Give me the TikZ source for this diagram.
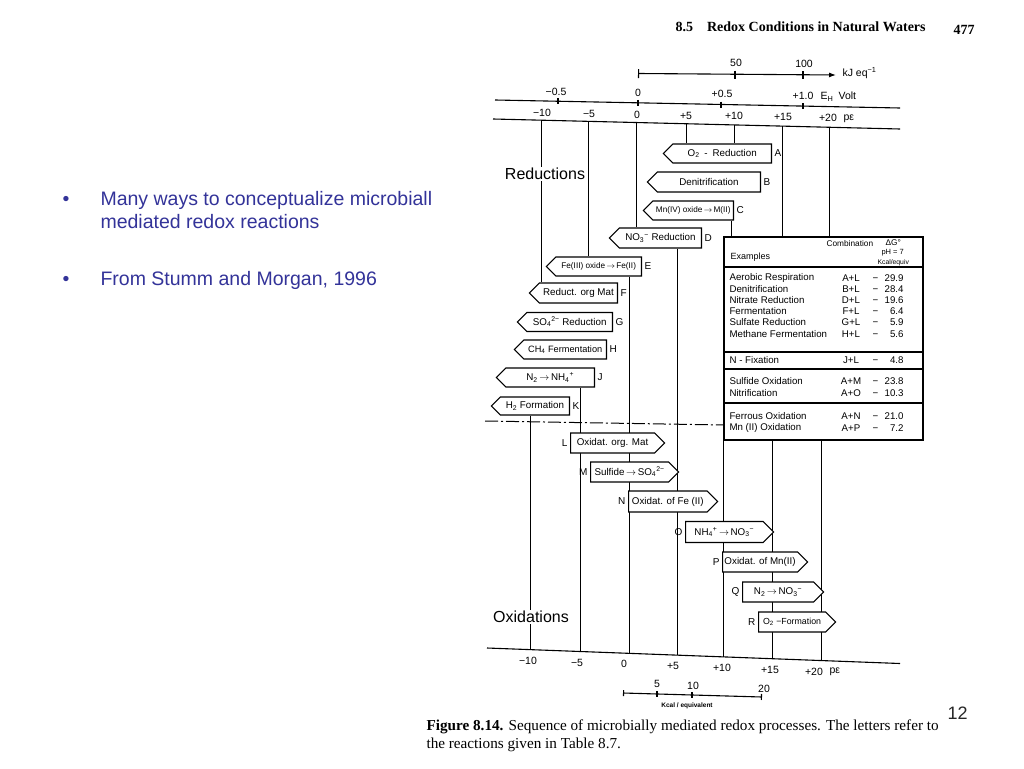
\documentclass[tikz,border=0pt]{standalone}
\usepackage{fontspec}
\setmainfont{Liberation Serif}
\setsansfont{Liberation Sans}
\usetikzlibrary{shapes.symbols,arrows.meta,backgrounds}
\definecolor{slideblue}{RGB}{51,51,153}
\newcommand{\sbs}[1]{\textsubscript{#1}}
\newcommand{\sps}[1]{\textsuperscript{#1}}
\newcommand{\rarr}{\,$\rightarrow$\,}
\newcommand{\fsz}[1]{\fontsize{#1}{#1}\selectfont}
\newcommand{\val}[1]{\makebox[31pt][l]{−\hfill #1}}
\tikzset{
  sig/.style={draw, fill=white, shape=signal, signal pointer angle=90, inner sep=1pt, minimum height=19, font=\sffamily\fsz{9.8}},
  rbox/.style={sig, signal to=west, anchor=east},
  obox/.style={sig, signal to=east, anchor=west},
  lett/.style={font=\sffamily\fsz{10}, inner sep=1pt},
  axl/.style={font=\sffamily\fsz{10.5}, inner sep=0pt},
  tabt/.style={font=\sffamily\fsz{9.7}, inner sep=0pt, anchor=west},
  tabc/.style={font=\sffamily\fsz{9.7}, inner sep=0pt},
  tabh/.style={font=\sffamily\fsz{7.5}, inner sep=0pt, anchor=west},
  big/.style={font=\sffamily\fsz{16}, fill=white, inner sep=1pt},
  slide/.style={font=\sffamily\fsz{19.5}, text=slideblue, inner sep=0pt, anchor=base west},
  captxt/.style={font=\rmfamily\fsz{15.2}, inner sep=0pt, anchor=base west},
}
\begin{document}
\begin{tikzpicture}[x=1pt,y=-1pt,line width=1.1pt]
\useasboundingbox (0,0) rectangle (1024,768);

% ---------------- slide text ----------------
\node[slide] (b1) at (62,205) {•};
\node[slide] (s1) at (100,205) {Many ways to conceptualize microbiall};
\node[slide] (s2) at (100,228) {mediated redox reactions};
\node[slide] (b2) at (62,285) {•};
\node[slide] (s3) at (100,285) {From Stumm and Morgan, 1996};
\node[font=\sffamily\fsz{18}, text=black!85, anchor=base west, inner sep=0pt] (pg) at (947,719) {12};

% ---------------- header ----------------
\node[font=\rmfamily\bfseries\fsz{14}, anchor=base west, inner sep=0pt] (hd) at (675,32) {8.5\quad Redox Conditions in Natural Waters};
\node[font=\rmfamily\bfseries\fsz{14}, anchor=base west, inner sep=0pt] (hp) at (953,35) {477};

% ---------------- kJ scale ----------------
\coordinate (kj0) at (638,73.5);
\coordinate (kjE) at (836,75);
\draw[{Bar[width=9pt]}-{Latex[length=7pt,width=5pt]}] (kj0) -- (kjE);
\draw (735,70.5) -- (735,78.5);
\draw (803,71) -- (803,79);
\node[axl] (k50) at (736,63) {50};
\node[axl] (k100) at (804,64) {100};
\node[axl, anchor=west] (kju) at (842,73) {kJ eq\sps{−1}};

% ---------------- E_H axis ----------------
\draw (495,100) -- (900,108);
\foreach \x/\y in {558/101.2, 638/102.8, 721/104.5, 803/106.1} \draw (\x,\y-3) -- (\x,\y+3);
\node[axl] (e1) at (556,91.7) {−0.5};
\node[axl] (e2) at (638,92.7) {0};
\node[axl] (e3) at (722,93.5) {+0.5};
\node[axl] (e4) at (803,96) {+1.0};
\node[axl, anchor=west] (eh) at (820,97) {E\sbs{H}\enspace Volt};

% ---------------- top pe axis ----------------
\draw (493,119) -- (900,129);
\coordinate (tm10) at (541,120.2);
\coordinate (tm5) at (588,121.4);
\coordinate (t0) at (636,122.5);
\coordinate (tp5) at (686,123.7);
\coordinate (tp10) at (734,124.9);
\coordinate (tp15) at (782,126.1);
\coordinate (tp20) at (829,127.3);
\node[axl] (l1) at (542,113) {−10};
\node[axl] (l2) at (589,113.8) {−5};
\node[axl] (l3) at (637,114.6) {0};
\node[axl] (l4) at (686,115.5) {+5};
\node[axl] (l5) at (734,116.3) {+10};
\node[axl] (l6) at (783,117.1) {+15};
\node[axl] (l7) at (828,117.9) {+20};
\node[axl, anchor=west] (pe1) at (843,119) {pε};

% ---------------- bottom pe axis ----------------
\draw (487,648) -- (900,663.5);
\coordinate (bm10) at (530,649.7);
\coordinate (bm5) at (580,651.5);
\coordinate (b0) at (629,653.4);
\coordinate (bp5) at (677,655.2);
\coordinate (bp10) at (723,657);
\coordinate (bp15) at (772,658.9);
\coordinate (bp20) at (821,660.7);
\node[axl] (m1) at (528,661) {−10};
\node[axl] (m2) at (577,662.5) {−5};
\node[axl] (m3) at (624,664) {0};
\node[axl] (m4) at (673,666) {+5};
\node[axl] (m5) at (722,668) {+10};
\node[axl] (m6) at (770,670) {+15};
\node[axl] (m7) at (814,672) {+20};
\node[axl, anchor=west] (pe2) at (829,672) {pε};

% ---------------- kcal scale ----------------
\draw[{Bar[width=6pt]}-{Bar[width=6pt]}] (623,693) -- (762,697);
\draw (657,691) -- (657,697);
\draw (692,692) -- (692,698);
\node[axl] (c5) at (657,684) {5};
\node[axl] (c10) at (693,686) {10};
\node[axl] (c20) at (764,689) {20};
\node[font=\sffamily\bfseries\fsz{6.5}, inner sep=0pt] (kc) at (687,706) {Kcal / equivalent};

% ---------------- section labels ----------------
\node[big] (red) at (545,174) {Reductions};
\node[big] (oxi) at (531,617) {Oxidations};

% ---------------- reduction boxes ----------------
\node[rbox, minimum width=108] (A) at (772,153.5) {O\sbs{2}\enspace -\enspace Reduction};
\node[rbox, minimum width=113, minimum height=20] (B) at (761,182) {Denitrification};
\node[rbox, minimum width=90, font=\sffamily\fsz{8.2}] (C) at (734,210.5) {Mn(IV) oxide\rarr M(II)};
\node[rbox, minimum width=92, minimum height=20] (D) at (702,238) {NO\sbs{3}\sps{−} Reduction};
\node[rbox, minimum width=95, font=\sffamily\fsz{8.2}] (E) at (642,266.5) {Fe(III) oxide\rarr Fe(II)};
\node[rbox, minimum width=88, minimum height=20] (F) at (618,293) {Reduct. org Mat};
\node[rbox, minimum width=95] (G) at (613,322) {SO\sbs{4}\sps{2−} Reduction};
\node[rbox, minimum width=92, font=\sffamily\fsz{9.2}] (H) at (607,349.5) {CH\sbs{4} Fermentation};
\node[rbox, minimum width=98] (J) at (595,377.5) {N\sbs{2}\rarr NH\sbs{4}\sps{+}\hspace{18pt}};
\node[rbox, minimum width=78, minimum height=18] (K) at (570,406) {H\sbs{2} Formation};
\foreach \n in {A,B,C,D,E,F,G,H,J,K}
  \node[lett, anchor=west] (\n lab) at ([xshift=1]\n.east) {\n};

% ---------------- oxidation boxes ----------------
\node[obox, minimum width=94, minimum height=20] (L) at (570,443) {Oxidat. org. Mat\hspace{8pt}};
\node[obox, minimum width=88, minimum height=20] (M) at (590,472) {Sulfide\rarr SO\sbs{4}\sps{2−}};
\node[obox, minimum width=89, minimum height=21] (N) at (628,501.5) {Oxidat. of Fe (II)};
\node[obox, minimum width=88, minimum height=21] (O) at (685,532) {NH\sbs{4}\sps{+}\rarr NO\sbs{3}\sps{−}};
\node[obox, minimum width=85, minimum height=20] (P) at (722,562) {Oxidat. of Mn(II)};
\node[obox, minimum width=81, minimum height=20] (Q) at (742,592) {N\sbs{2}\rarr NO\sbs{3}\sps{−}\hspace{6pt}};
\node[obox, minimum width=77, minimum height=20, font=\sffamily\fsz{8.8}] (R) at (758,622) {O\sbs{2} −Formation};
\foreach \n in {L,M,N,O,P,Q,R}
  \node[lett, anchor=east] (\n lab) at ([xshift=-1]\n.west) {\n};

% ---------------- table ----------------
\node[draw, fill=white, minimum width=199, minimum height=203, inner sep=0pt] (tab) at (823.5,338.5) {};
\draw (724,267) -- (923,267);
\draw (724,352) -- (923,352);
\draw (724,369) -- (923,369);
\draw (724,403) -- (923,403);
\node[tabh, font=\sffamily\fsz{8.3}] (th1) at (826,244) {Combination};
\node[tabh, font=\sffamily\fsz{8.3}] (th2) at (885,243) {ΔG°};
\node[tabh] (th3) at (881,253) {pH = 7};
\node[tabh, font=\sffamily\fsz{6.8}] (th4) at (877,263) {Kcal/equiv};
\node[tabh, font=\sffamily\fsz{9}] (th5) at (730,257) {Examples};

\node[tabt] (r1) at (729,278) {Aerobic Respiration};
\node[tabt] (r2) at (729,289) {Denitrification};
\node[tabt] (r3) at (729,300) {Nitrate Reduction};
\node[tabt] (r4) at (729,311) {Fermentation};
\node[tabt] (r5) at (729,322) {Sulfate Reduction};
\node[tabt] (r6) at (729,334) {Methane Fermentation};
\node[tabt] (r7) at (729,360) {N - Fixation};
\node[tabt] (r8) at (729,381) {Sulfide Oxidation};
\node[tabt] (r9) at (729,393) {Nitrification};
\node[tabt] (r10) at (729,416) {Ferrous Oxidation};
\node[tabt] (r11) at (729,428) {Mn (II) Oxidation};

\node[tabc] (q1) at (851,278) {A+L};
\node[tabc] (q2) at (851,289) {B+L};
\node[tabc] (q3) at (851,300) {D+L};
\node[tabc] (q4) at (851,311) {F+L};
\node[tabc] (q5) at (851,322) {G+L};
\node[tabc] (q6) at (851,334) {H+L};
\node[tabc] (q7) at (851,360) {J+L};
\node[tabc] (q8) at (851,381) {A+M};
\node[tabc] (q9) at (851,393) {A+O};
\node[tabc] (q10) at (851,416) {A+N};
\node[tabc] (q11) at (851,428) {A+P};

\node[tabt] (v1) at (872,278) {\val{29.9}};
\node[tabt] (v2) at (872,289) {\val{28.4}};
\node[tabt] (v3) at (872,300) {\val{19.6}};
\node[tabt] (v4) at (872,311) {\val{6.4}};
\node[tabt] (v5) at (872,322) {\val{5.9}};
\node[tabt] (v6) at (872,334) {\val{5.6}};
\node[tabt] (v7) at (872,360) {\val{4.8}};
\node[tabt] (v8) at (872,381) {\val{23.8}};
\node[tabt] (v9) at (872,393) {\val{10.3}};
\node[tabt] (v10) at (872,416) {\val{21.0}};
\node[tabt] (v11) at (872,428) {\val{7.2}};

% ---------------- connectors (behind) ----------------
\coordinate (xC) at (731,0);
\coordinate (ddL) at (485,421);
\coordinate (ddR) at (724,425);
\begin{scope}[on background layer]
\fill[white] (0,0) rectangle (1024,768);
\draw (tm10) -- (tm10 |- F.north);
\draw (tm5) -- (tm5 |- E.north);
\draw (t0) -- (t0 |- D.north);
\draw (tp5) -- (tp5 |- A.north);
\draw (tp10) -- (tp10 |- A.north);
\draw (tp15) -- (tp15 |- tab.north);
\draw (tp20) -- (tp20 |- tab.north);
\draw (xC |- C.south) -- (xC |- tab.north);
\draw (bm10 |- K.south) -- (bm10);
\draw (bm5 |- J.south) -- (bm5);
\draw (b0 |- E.south) -- (b0);
\draw (bp5 |- D.south) -- (bp5);
\draw (bp10 |- tab.south) -- (bp10);
\draw (bp15 |- tab.south) -- (bp15);
\draw (bp20 |- tab.south) -- (bp20);
\draw[line width=1pt, dash pattern=on 13pt off 3pt on 2pt off 3pt] (ddL) -- (ddR);
\end{scope}

% ---------------- caption ----------------
\node[captxt] (cp1) at (426,730) {\textbf{Figure 8.14.} Sequence of microbially mediated redox processes. The letters refer to};
\node[captxt] (cp2) at (426,748) {the reactions given in Table 8.7.};
\end{tikzpicture}
\end{document}
